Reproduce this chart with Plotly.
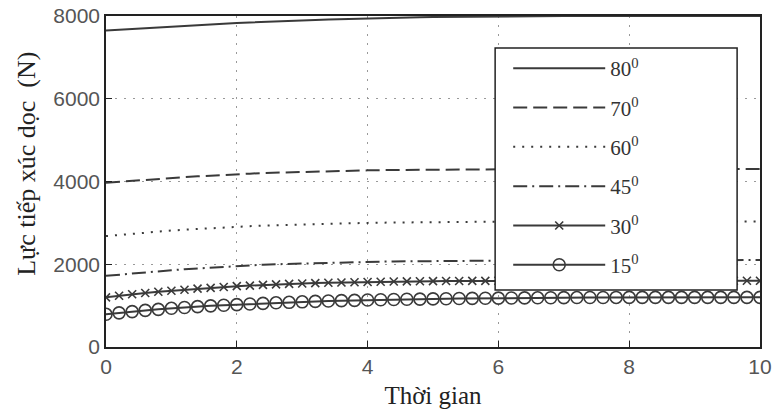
import plotly.graph_objects as go

t = [0.0, 0.2, 0.4, 0.6, 0.8, 1.0, 1.2, 1.4, 1.6, 1.8, 2.0, 2.2, 2.4, 2.6, 2.8, 3.0,
     3.2, 3.4, 3.6, 3.8, 4.0, 4.2, 4.4, 4.6, 4.8, 5.0, 5.2, 5.4, 5.6, 5.8, 6.0,
     6.2, 6.4, 6.6, 6.8, 7.0, 7.2, 7.4, 7.6, 7.8, 8.0, 8.2, 8.4, 8.6, 8.8, 9.0,
     9.2, 9.4, 9.6, 9.8, 10.0]

f80 = [7650, 7670, 7690, 7710, 7730, 7750, 7770, 7785, 7800, 7815, 7830, 7845, 7860, 7872, 7884, 7895,
       7905, 7915, 7925, 7935, 7945, 7952, 7958, 7964, 7970, 7975, 7979, 7983, 7986, 7989, 7991,
       7993, 7994, 7995, 7996, 7997, 7997, 7998, 7998, 7998, 7998, 7998, 7998, 7998, 7998, 7998,
       7998, 7998, 7998, 7998, 7998]
f70 = [3970, 3995, 4020, 4045, 4065, 4085, 4105, 4125, 4145, 4160, 4175, 4190, 4205, 4215, 4225, 4235,
       4245, 4250, 4258, 4264, 4270, 4274, 4278, 4282, 4285, 4288, 4290, 4292, 4294, 4296, 4298,
       4299, 4300, 4300, 4300, 4300, 4300, 4300, 4300, 4300, 4300, 4300, 4300, 4300, 4300, 4300,
       4300, 4300, 4300, 4300, 4300]
f60 = [2680, 2710, 2740, 2765, 2790, 2815, 2835, 2855, 2875, 2890, 2905, 2920, 2935, 2945, 2955, 2965,
       2975, 2982, 2990, 2996, 3000, 3005, 3010, 3014, 3018, 3020, 3022, 3024, 3026, 3028, 3030,
       3031, 3032, 3033, 3034, 3035, 3035, 3035, 3035, 3035, 3035, 3035, 3035, 3035, 3035, 3035,
       3035, 3035, 3035, 3035, 3035]
f45 = [1720, 1750, 1780, 1805, 1830, 1855, 1880, 1900, 1920, 1940, 1960, 1975, 1990, 2000, 2010, 2020,
       2030, 2038, 2045, 2052, 2058, 2063, 2068, 2072, 2076, 2080, 2083, 2086, 2088, 2090, 2092,
       2093, 2094, 2095, 2096, 2097, 2098, 2098, 2099, 2099, 2100, 2100, 2100, 2100, 2100, 2100,
       2100, 2100, 2100, 2100, 2100]
f30 = [1200, 1240, 1275, 1305, 1335, 1360, 1385, 1410, 1430, 1450, 1470, 1485, 1500, 1512, 1524, 1535,
       1545, 1553, 1560, 1566, 1572, 1577, 1582, 1586, 1589, 1592, 1594, 1596, 1598, 1599, 1600,
       1600, 1600, 1600, 1600, 1600, 1600, 1600, 1600, 1600, 1600, 1600, 1600, 1600, 1600, 1600,
       1600, 1600, 1600, 1600, 1600]
f15 = [790, 825, 855, 885, 910, 935, 955, 975, 995, 1010, 1025, 1040, 1055, 1068, 1080, 1092,
       1102, 1112, 1120, 1128, 1135, 1142, 1148, 1153, 1158, 1163, 1167, 1171, 1175, 1178, 1181,
       1184, 1187, 1189, 1191, 1193, 1195, 1196, 1197, 1198, 1199, 1200, 1200, 1200, 1200, 1200,
       1200, 1200, 1200, 1200, 1200]

names = ["80<sup>0</sup>", "70<sup>0</sup>", "60<sup>0</sup>", "45<sup>0</sup>", "30<sup>0</sup>", "15<sup>0</sup>"]
series = [f80, f70, f60, f45, f30, f15]
dashes = ["solid", "14px,6px", "2px,7px", "14px,5px,2px,5px", "solid", "solid"]
modes = ["lines", "lines", "lines", "lines", "lines+markers", "lines+markers"]
symbols = [None, None, None, None, "x-thin-open", "circle-open"]
msizes = [0, 0, 0, 0, 8, 12]

xticks = [0, 2, 4, 6, 8, 10]
yticks = [0, 2000, 4000, 6000, 8000]

col = "#3a3a3a"
fig = go.Figure()
for i in range(6):
    tr = dict(x=t, y=series[i], name=names[i], mode=modes[i], legendgroup=str(i),
              line=dict(color=col, width=2, dash=dashes[i]))
    if symbols[i]:
        tr["marker"] = dict(symbol=symbols[i], size=msizes[i], color=col,
                            line=dict(color=col, width=1.6))
    fig.add_trace(go.Scatter(**tr))

axis_common = dict(showline=True, linecolor="#222", linewidth=1.5, mirror=True, automargin=False,
                   showgrid=True, gridcolor="#999", griddash="2px,7px", gridwidth=1.2,
                   ticks="inside", ticklen=6, tickcolor="#222", zeroline=False,
                   tickfont=dict(family="Liberation Sans", size=21, color="#555"))

fig.update_layout(
    width=776, height=415,
    paper_bgcolor="white", plot_bgcolor="white",
    margin=dict(l=106, r=16, t=16, b=68),
    xaxis=dict(range=[0, 10], tickvals=xticks,
               title=dict(text="Thời gian", font=dict(family="Liberation Serif", size=25, color="#222"), standoff=10),
               **axis_common),
    yaxis=dict(range=[0, 8000], tickvals=yticks, **axis_common),
    legend=dict(x=0.615, y=0.903, xanchor="left", yanchor="top",
                bgcolor="rgba(0,0,0,0)", borderwidth=0,
                font=dict(family="Liberation Serif", size=21, color="#333"),
                itemwidth=92, tracegroupgap=9),
    showlegend=True,
    shapes=[dict(type="rect", xref="paper", yref="paper", x0=0.595, x1=0.965, y0=0.172, y1=0.903,
                 fillcolor="white", line=dict(color="#222", width=1.5), layer="above")],
    annotations=[dict(text="Lực tiếp xúc dọc  (N)", textangle=-90, xref="paper", yref="paper",
                      x=-0.121, y=0.553, xanchor="center", yanchor="middle", showarrow=False,
                      font=dict(family="Liberation Serif", size=26, color="#222"))],
)

fig.write_html("out.html", config={"displayModeBar": False},
               post_script="document.body.style.margin='0';")
